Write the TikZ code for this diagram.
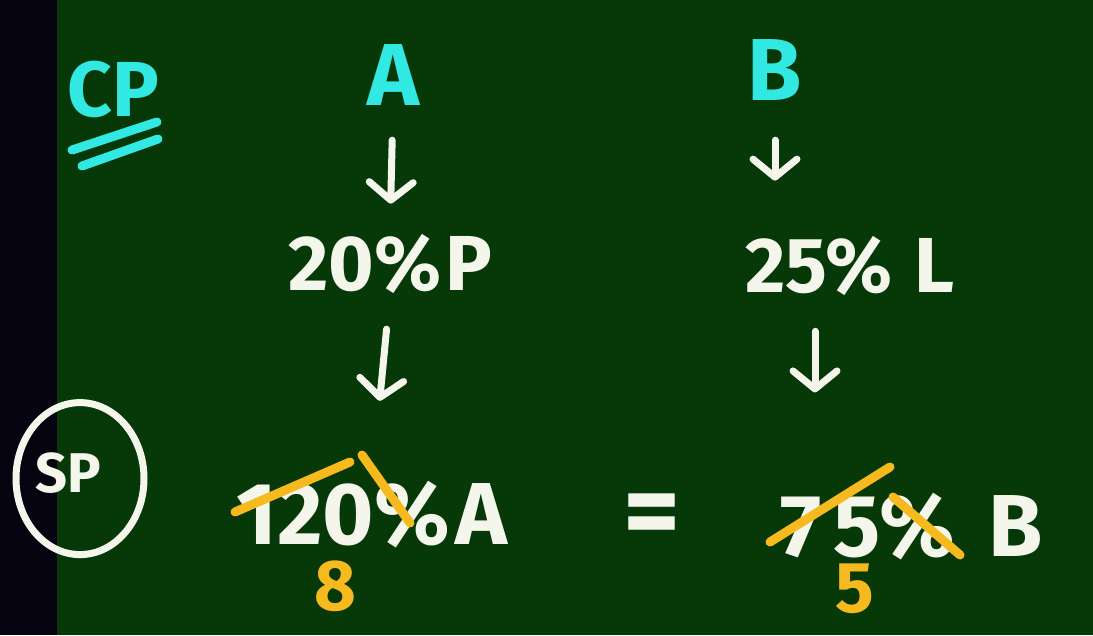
\documentclass[tikz,border=0pt]{standalone}
\usepackage{fontspec}
\setmainfont{Fira Sans}
\usetikzlibrary{arrows.meta}
\definecolor{board}{RGB}{6,56,8}
\definecolor{strip}{RGB}{6,4,16}
\definecolor{chalkcyan}{RGB}{50,232,226}
\definecolor{chalkwhite}{RGB}{244,246,236}
\definecolor{chalkgold}{RGB}{246,186,30}
\tikzset{
  txt/.style={inner sep=0pt,anchor=base,text=chalkwhite},
  cyantxt/.style={txt,text=chalkcyan},
  goldtxt/.style={txt,text=chalkgold},
  chalkarrow/.style={draw=chalkwhite,line width=7pt,line cap=round,line join=round,
    -{Straight Barb[length=18pt,width=44pt,line width=7pt,round]}},
  strike/.style={draw=chalkgold,line width=9pt,line cap=round},
  uline/.style={draw=chalkcyan,line width=9pt,line cap=round},
}
\newcommand{\chalksize}[1]{\fontsize{#1}{#1}\selectfont\bfseries}
\begin{document}
\begin{tikzpicture}[x=1pt,y=-1pt]
\useasboundingbox (0,0) rectangle (1093,635);
\fill[board] (0,0) rectangle (1093,635);
\fill[strip] (0,0) rectangle (57,635);
% headings
\node[cyantxt,font=\chalksize{78}] (CP) at (113,116) {CP};
\coordinate (u1a) at (72,150); \coordinate (u1b) at (157,122);
\coordinate (u2a) at (82,166); \coordinate (u2b) at (158,139);
\draw[uline] (u1a) -- (u1b);
\draw[uline] (u2a) -- (u2b);
\node[cyantxt,font=\chalksize{88}] (A) at (393,105) {A};
\node[cyantxt,font=\chalksize{88}] (B) at (775,100) {B};
% middle row
\node[txt,font=\chalksize{78}] (pA) at (390,290) {20\%\hspace{4pt}P};
\node[txt,font=\chalksize{78}] (pB) at (850,292) {25\%\hspace{22pt}L};
% bottom row
\node[txt,font=\chalksize{88}] (sA) at (372,544) {120\%\hspace{6pt}A};
\node[txt,font=\chalksize{110}] (eq) at (652,548) {=};
\node[txt,font=\chalksize{88}] (sB) at (912,556) {7\hspace{12pt}5\%\hspace{34pt}B};
\node[goldtxt,font=\chalksize{72}] (eight) at (335,610) {8};
\node[goldtxt,font=\chalksize{72}] (five) at (855,612) {5};
% SP circled
\node[txt,font=\chalksize{56}] (SP) at (68,492) {SP};
\draw[chalkwhite,line width=7pt] (SP.center) ++(12,6) ellipse [x radius=64,y radius=76];
% arrows
\draw[chalkarrow,shorten <=35pt,shorten >=30pt] (A.south) -- (pA.north);
\draw[chalkarrow,shorten <=36pt,shorten >=80pt] (pA.south) -- (sA.north);
\draw[chalkarrow,shorten <=40pt,shorten >=55pt] (B.south) -- (pB.north -| B.south);
\draw[chalkarrow,shorten <=36pt,shorten >=100pt] (pB.south -| 815,0) -- (sB.north -| 815,0);
% strikes
\coordinate (s1a) at (235,512); \coordinate (s1b) at (350,462);
\coordinate (s2a) at (362,455); \coordinate (s2b) at (410,523);
\coordinate (s3a) at (770,542); \coordinate (s3b) at (890,467);
\coordinate (s4a) at (893,497); \coordinate (s4b) at (960,555);
\draw[strike] (s1a) -- (s1b);
\draw[strike] (s2a) -- (s2b);
\draw[strike] (s3a) -- (s3b);
\draw[strike] (s4a) -- (s4b);
\end{tikzpicture}
\end{document}
